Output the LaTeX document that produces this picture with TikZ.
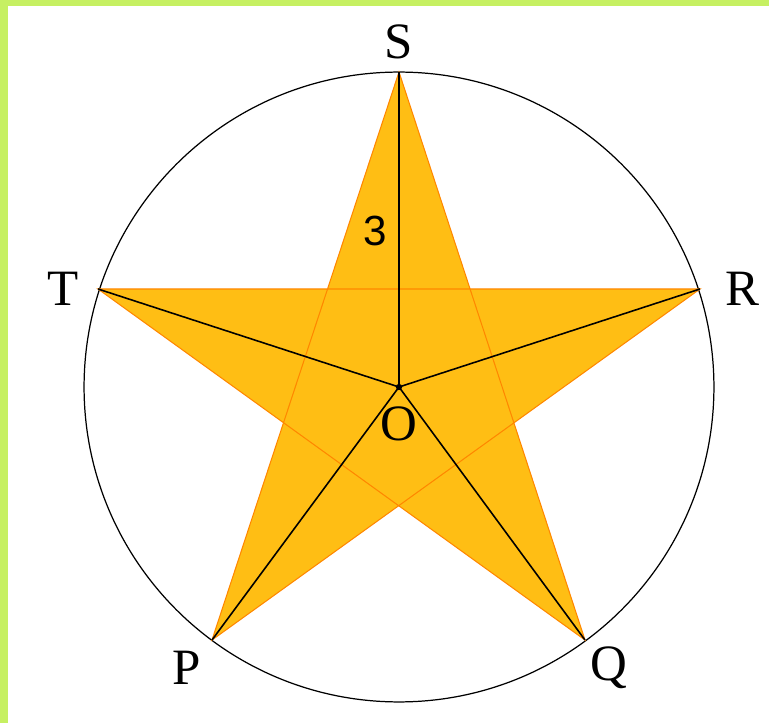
\documentclass[tikz,border=0pt]{standalone}
\usepackage{fontspec}
\setmainfont{Liberation Serif}
\newfontfamily\digitfont{Liberation Sans}
\definecolor{framegreen}{RGB}{198,240,98}
\definecolor{starfill}{RGB}{255,190,20}
\definecolor{staredge}{RGB}{255,135,0}
\begin{document}
\begin{tikzpicture}[x=0.02cm, y=-0.02cm,
    vertex/.style={font=\fontsize{29}{29}\selectfont, inner sep=0pt},
    radius line/.style={black, line width=0.9pt}]
    \useasboundingbox (0,0) rectangle (769,723);

    %% frame
    \fill[framegreen] (0,0) rectangle (769,6);
    \fill[framegreen] (0,0) rectangle (8,723);

    %% points
    \coordinate (O) at (399,387);
    \coordinate (S) at (399,72);
    \coordinate (R) at (700,289);
    \coordinate (Q) at (585,640);
    \coordinate (P) at (212,640);
    \coordinate (T) at (98,289);

    %% circle and star
    \draw[black, line width=0.7pt] (O) circle[radius=6.3cm];
    \draw[staredge, fill=starfill, line width=0.6pt] (S) -- (P) -- (R) -- (T) -- (Q) -- cycle;

    %% radii
    \foreach \p in {S,R,Q,P,T}
      \draw[radius line] (O) -- (\p);
    \fill (O) circle[radius=1.8pt];

    %% labels
    \node[vertex] (labS) at (399,42) {S};
    \node[vertex] (labR) at (742,289) {R};
    \node[vertex] (labQ) at (609,668) {Q};
    \node[vertex] (labP) at (187,668) {P};
    \node[vertex] (labT) at (63,289) {T};
    \node[vertex] (labO) at (399,424) {O};
    \node[font=\digitfont\fontsize{24}{24}\selectfont, inner sep=0pt] (len) at (375,231) {3};
\end{tikzpicture}
\end{document}
